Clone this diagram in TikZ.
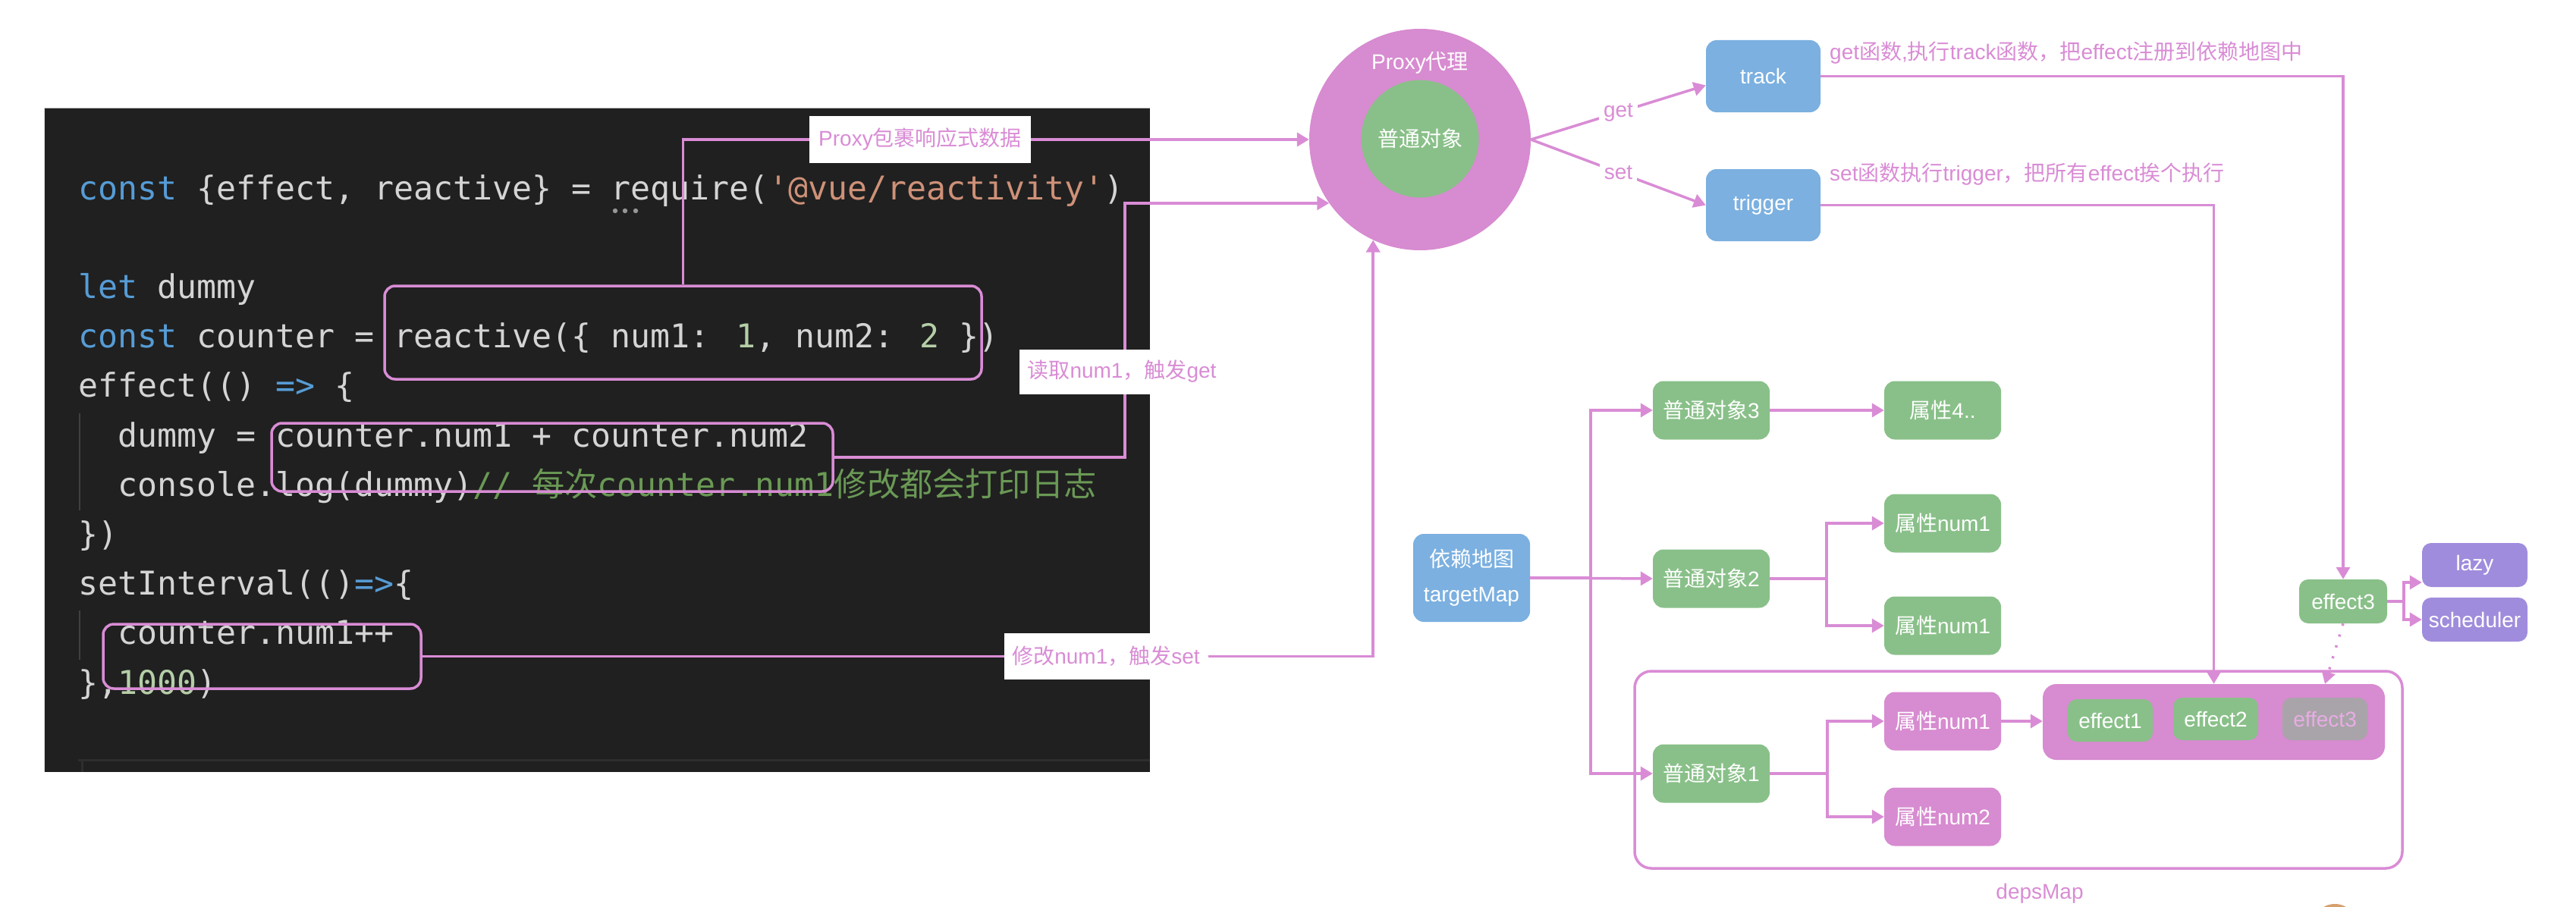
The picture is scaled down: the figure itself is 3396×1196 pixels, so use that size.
\documentclass[tikz,border=0pt]{standalone}
\usepackage{fontspec}
\setmainfont{Liberation Sans}
\newfontfamily\cjk{Noto Sans CJK SC}
\newfontfamily\codefont{DejaVu Sans Mono}
\usetikzlibrary{arrows.meta,calc}
\definecolor{pk}{RGB}{215,139,208}
\definecolor{pkline}{RGB}{217,140,213}
\definecolor{gr}{RGB}{137,192,137}
\definecolor{bl}{RGB}{123,176,224}
\definecolor{pu}{RGB}{160,140,220}
\definecolor{gy}{RGB}{169,164,169}
\definecolor{gytext}{RGB}{232,172,228}
\definecolor{codebg}{RGB}{32,32,32}
\definecolor{codefg}{RGB}{212,212,212}
\definecolor{kw}{RGB}{86,156,214}
\definecolor{str}{RGB}{206,145,120}
\definecolor{num}{RGB}{181,206,168}
\definecolor{cmt}{RGB}{106,153,85}
\definecolor{guide}{RGB}{64,64,64}
\definecolor{panelline}{RGB}{46,46,46}
\definecolor{paneledge}{RGB}{190,190,190}
\definecolor{hintdot}{RGB}{150,150,150}
\definecolor{avatar}{RGB}{214,160,110}
\begin{document}
\begin{tikzpicture}[x=1pt,y=-1pt,
  conn/.style={draw=pkline, line width=3.5pt, -{Triangle[length=16pt,width=18pt]}},
  lab/.style={fill=white, text=pkline, font=\fontsize{28}{34}\selectfont, inner sep=0pt},
  box/.style={rounded corners=14pt, minimum width=154pt, minimum height=77pt, text=white, font=\fontsize{28}{34}\selectfont, inner sep=0pt, align=center},
  sbox/.style={box, minimum width=112pt, minimum height=56pt, rounded corners=12pt},
  code/.style={anchor=base west, inner sep=0pt, text=codefg, font=\codefont\fontsize{43.2}{50}\selectfont},
  hl/.style={draw=pkline, line width=3.5pt, rounded corners=14pt, inner sep=0pt},
]
\useasboundingbox (0,0) rectangle (3396,1196);
\fill[white] (0,0) rectangle (3396,1196);

% ---------- code panel ----------
\fill[codebg] (58,142) rectangle (1516,1018);
\draw[paneledge, line width=1.5pt] (58,142.5) -- (1516,142.5);
\draw[paneledge!60, line width=1pt] (58.5,142) -- (58.5,1018);
\draw[guide, line width=2pt] (105,545) -- (105,673);
\draw[guide, line width=2pt] (105,805) -- (105,870);
\draw[panelline, line width=3pt] (103,1002) -- (1516,1002);
\draw[panelline, line width=3pt] (108,1002) -- (108,1018);

\node[code] (c1) at (103,263) {\textcolor{kw}{const} \{effect, reactive\} = require(\textcolor{str}{\char"27 @vue/reactivity\char"27})};
\fill[hintdot] (811,278) circle (3.2pt) (824,278) circle (3.2pt) (838,278) circle (3.2pt);
\node[code] (c2) at (103,393.4) {\textcolor{kw}{let} dummy};
\node[code] (c3) at (103,458.6) {\textcolor{kw}{const} counter = reactive(\{ num1: \textcolor{num}{1}, num2: \textcolor{num}{2} \})};
\node[code] (c4) at (103,523.8) {effect(() \textcolor{kw}{=>} \{};
\node[code] (c5) at (155,589) {dummy = counter.num1 + counter.num2};
\node[code] (c6) at (155,654.2) {console.log(dummy)\textcolor{cmt}{// {\cjk 每次}counter.num1{\cjk 修改都会打印日志}}};
\node[code] (c7) at (103,719.4) {\})};
\node[code] (c8) at (103,784.6) {setInterval(()\textcolor{kw}{=>}\{};
\node[code] (c9) at (155,849.8) {counter.num1++};
\node[code] (c10) at (103,915) {\},\textcolor{num}{1000})};

% highlight boxes
\node[hl, minimum width=787pt, minimum height=123pt] (rbox) at (900.5,438.5) {};
\node[hl, minimum width=740pt, minimum height=90pt] (cnt) at (728,603) {};
\node[hl, minimum width=419pt, minimum height=85pt] (ctr) at (345.5,865.5) {};

% ---------- proxy ----------
\node[circle, fill=pk, minimum size=292pt, inner sep=0pt] (proxy) at (1872,184) {};
\node[circle, fill=gr, minimum size=155pt, inner sep=0pt, text=white, font=\fontsize{28}{34}\selectfont] (inner) at (1872,183) {\cjk 普通对象};
\node[text=white, inner sep=0pt, font=\fontsize{28}{34}\selectfont] (ptitle) at (1872,83) {Proxy{\cjk 代理}};

\draw[conn] (rbox.north) |- (proxy.west);
\draw[conn] (cnt.east) -- ++(383,0) |- (proxy.215.5);
\draw[conn] (ctr.east) -| (proxy.245);

\node[lab, minimum width=292pt, minimum height=62pt] (l1) at (1213,184) {Proxy{\cjk 包裹响应式数据}};
\node[lab, minimum width=271pt, minimum height=59pt] (l2) at (1479,490) {{\cjk 读取}num1{\cjk ，触发}get};
\node[lab, minimum width=269pt, minimum height=61pt] (l3) at (1458,865) {{\cjk 修改}num1{\cjk ，触发}set};

% ---------- track / trigger ----------
\node[box, fill=bl, minimum width=151pt, minimum height=95pt] (track) at (2324.5,100.5) {track};
\node[box, fill=bl, minimum width=151pt, minimum height=95pt] (trigger) at (2324.5,270.5) {trigger};
\draw[conn] (proxy.east) -- node[lab, inner sep=6pt] (lget) {get} ([yshift=-12pt]track.west);
\draw[conn] (proxy.east) -- node[lab, inner sep=6pt] (lset) {set} (trigger.west);
\node[anchor=west, inner sep=0pt, text=pkline, font=\fontsize{28}{34}\selectfont] (ttxt) at (2412,70) {get{\cjk 函数},{\cjk 执行}track{\cjk 函数，把}effect{\cjk 注册到依赖地图中}};
\node[anchor=west, inner sep=0pt, text=pkline, font=\fontsize{28}{34}\selectfont] (gtxt) at (2412,230) {set{\cjk 函数执行}trigger{\cjk ，把所有}effect{\cjk 挨个执行}};

% ---------- target map ----------
\node[box, fill=bl, minimum width=154pt, minimum height=116pt, font=\fontsize{28}{46}\selectfont] (tm) at (1940,762) {{\cjk 依赖地图}\\targetMap};
\node[box, fill=gr] (obj3) at (2256,541) {{\cjk 普通对象}3};
\node[box, fill=gr] (prop4) at (2561,541) {{\cjk 属性}4..};
\node[box, fill=gr] (obj2) at (2256,763) {{\cjk 普通对象}2};
\node[box, fill=gr] (p21) at (2561,690) {{\cjk 属性}num1};
\node[box, fill=gr] (p22) at (2561,825) {{\cjk 属性}num1};

% deps map container
\node[draw=pkline, line width=3.5pt, rounded corners=22pt, minimum width=1012pt, minimum height=260pt, inner sep=0pt] (deps) at (2661,1015) {};
\node[text=pkline, inner sep=0pt, font=\fontsize{28}{34}\selectfont] (dlab) at (2689,1178) {depsMap};
\node[box, fill=gr] (obj1) at (2256,1020) {{\cjk 普通对象}1};
\node[box, fill=pk] (pn1) at (2561,951) {{\cjk 属性}num1};
\node[box, fill=pk] (pn2) at (2561,1077) {{\cjk 属性}num2};
\node[fill=pk, rounded corners=18pt, minimum width=451pt, minimum height=100pt, inner sep=0pt] (effbox) at (2918.5,952) {};
\node[sbox, fill=gr] (eff1) at (2782,950) {effect1};
\node[sbox, fill=gr] (eff2) at (2921,948) {effect2};
\node[sbox, fill=gy, text=gytext] (eff3) at (3065,948) {effect3};

% effect3 + options
\node[sbox, fill=gr, minimum width=116pt, minimum height=58pt] (e3s) at (3089,793) {effect3};
\node[sbox, fill=pu, minimum width=139pt, minimum height=58pt] (lazy) at (3262.5,745) {lazy};
\node[sbox, fill=pu, minimum width=139pt, minimum height=58pt] (sched) at (3262.5,817) {scheduler};

% connectors right part
\draw[conn] (tm.east) -- (obj2.west);
\draw[conn] (tm.east) -- ++(80,0) |- (obj3.west);
\draw[conn] (tm.east) -- ++(80,0) |- (obj1.west);
\draw[conn] (obj3.east) -- (prop4.west);
\draw[conn] (obj2.east) -- ++(75,0) |- (p21.west);
\draw[conn] (obj2.east) -- ++(75,0) |- (p22.west);
\draw[conn] (obj1.east) -- ++(76,0) |- (pn1.west);
\draw[conn] (obj1.east) -- ++(76,0) |- (pn2.west);
\draw[conn] (pn1.east) -- (pn1.east -| effbox.west);
\draw[conn] (track.east) -| (e3s.north);
\draw[conn] (trigger.east) -| (effbox.north);
\draw[conn, dash pattern=on 3pt off 12pt] (e3s.south) -- (eff3.north |- effbox.north);
\draw[conn] (e3s.east) -- ++(22,0) |- ([yshift=-23pt]lazy.west);
\draw[conn] (e3s.east) -- ++(22,0) |- (sched.west);

% partly visible round mark at the bottom edge
\fill[avatar] (3078,1222) circle (30pt);
\end{tikzpicture}
\end{document}
